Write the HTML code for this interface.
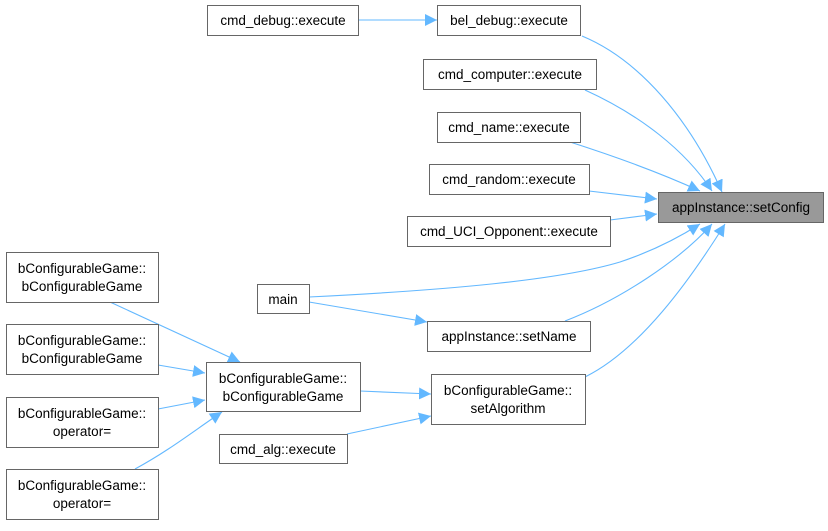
<!DOCTYPE html>
<html><head><style>
html,body{margin:0;padding:0;background:#fff;}
text{font-family:"Liberation Sans",sans-serif;font-size:13.5px;fill:#000;}
</style></head><body>
<svg width="828" height="526" viewBox="0 0 828 526" xmlns="http://www.w3.org/2000/svg">
<defs>
<marker id="a" viewBox="0 0 10 10" refX="10" refY="5" markerWidth="12" markerHeight="12" markerUnits="userSpaceOnUse" orient="auto">
<path d="M0,0 L10,5 L0,10 z" fill="#63b8ff"/>
</marker>
</defs>
<g fill="none" stroke="#63b8ff" stroke-width="1.1" marker-end="url(#a)">
<path d="M358,20 L437,20"/>
<path d="M582,36 C640,60 690,120 722,192"/>
<path d="M585,90 C640,115 685,150 712,191"/>
<path d="M570,142 C620,158 665,175 700,191"/>
<path d="M589,191 L657,199"/>
<path d="M610,220 L657,214"/>
<path d="M309,297 C450,290 560,280 620,262 C650,252 675,240 700,224"/>
<path d="M565,321 C620,300 680,260 712,224"/>
<path d="M585,377 C640,350 690,280 725,224"/>
<path d="M309,302 L427,322"/>
<path d="M360,391 L431,394"/>
<path d="M347,434 L431,416"/>
<path d="M110,302 L240,362"/>
<path d="M158,365 L205,373"/>
<path d="M158,409 L205,400"/>
<path d="M135,469 C170,450 195,430 222,412"/>
</g>
<g fill="#fff" stroke="#666" stroke-width="1">
<rect x="207.5" y="5.5" width="151" height="30"/>
<rect x="437.5" y="5.5" width="143" height="30"/>
<rect x="423.5" y="59.5" width="173" height="30"/>
<rect x="437.5" y="112.5" width="143" height="30"/>
<rect x="429.5" y="164.5" width="160" height="30"/>
<rect x="407.5" y="216.5" width="203" height="30"/>
<rect x="658.5" y="192.5" width="165" height="30" fill="#999"/>
<rect x="257.5" y="284.5" width="52" height="29"/>
<rect x="427.5" y="321.5" width="163" height="30"/>
<rect x="431.5" y="374.5" width="154" height="50"/>
<rect x="206.5" y="362.5" width="154" height="49"/>
<rect x="219.5" y="434.5" width="128" height="29"/>
<rect x="6.5" y="252.5" width="152" height="50"/>
<rect x="6.5" y="324.5" width="152" height="50"/>
<rect x="6.5" y="397.5" width="152" height="50"/>
<rect x="6.5" y="469.5" width="152" height="50"/>
</g>
<g text-anchor="middle">
<text x="283" y="25">cmd_debug::execute</text>
<text x="509" y="25">bel_debug::execute</text>
<text x="510" y="79">cmd_computer::execute</text>
<text x="509" y="132">cmd_name::execute</text>
<text x="509" y="184">cmd_random::execute</text>
<text x="509" y="236">cmd_UCI_Opponent::execute</text>
<text x="741" y="212">appInstance::setConfig</text>
<text x="283" y="304">main</text>
<text x="509" y="341">appInstance::setName</text>
<text x="508" y="395">bConfigurableGame::</text>
<text x="508" y="413">setAlgorithm</text>
<text x="283" y="383">bConfigurableGame::</text>
<text x="283" y="401">bConfigurableGame</text>
<text x="283" y="454">cmd_alg::execute</text>
<text x="82" y="273">bConfigurableGame::</text>
<text x="82" y="291">bConfigurableGame</text>
<text x="82" y="345">bConfigurableGame::</text>
<text x="82" y="363">bConfigurableGame</text>
<text x="82" y="418">bConfigurableGame::</text>
<text x="82" y="436">operator=</text>
<text x="82" y="490">bConfigurableGame::</text>
<text x="82" y="508">operator=</text>
</g>
</svg>
</body></html>
